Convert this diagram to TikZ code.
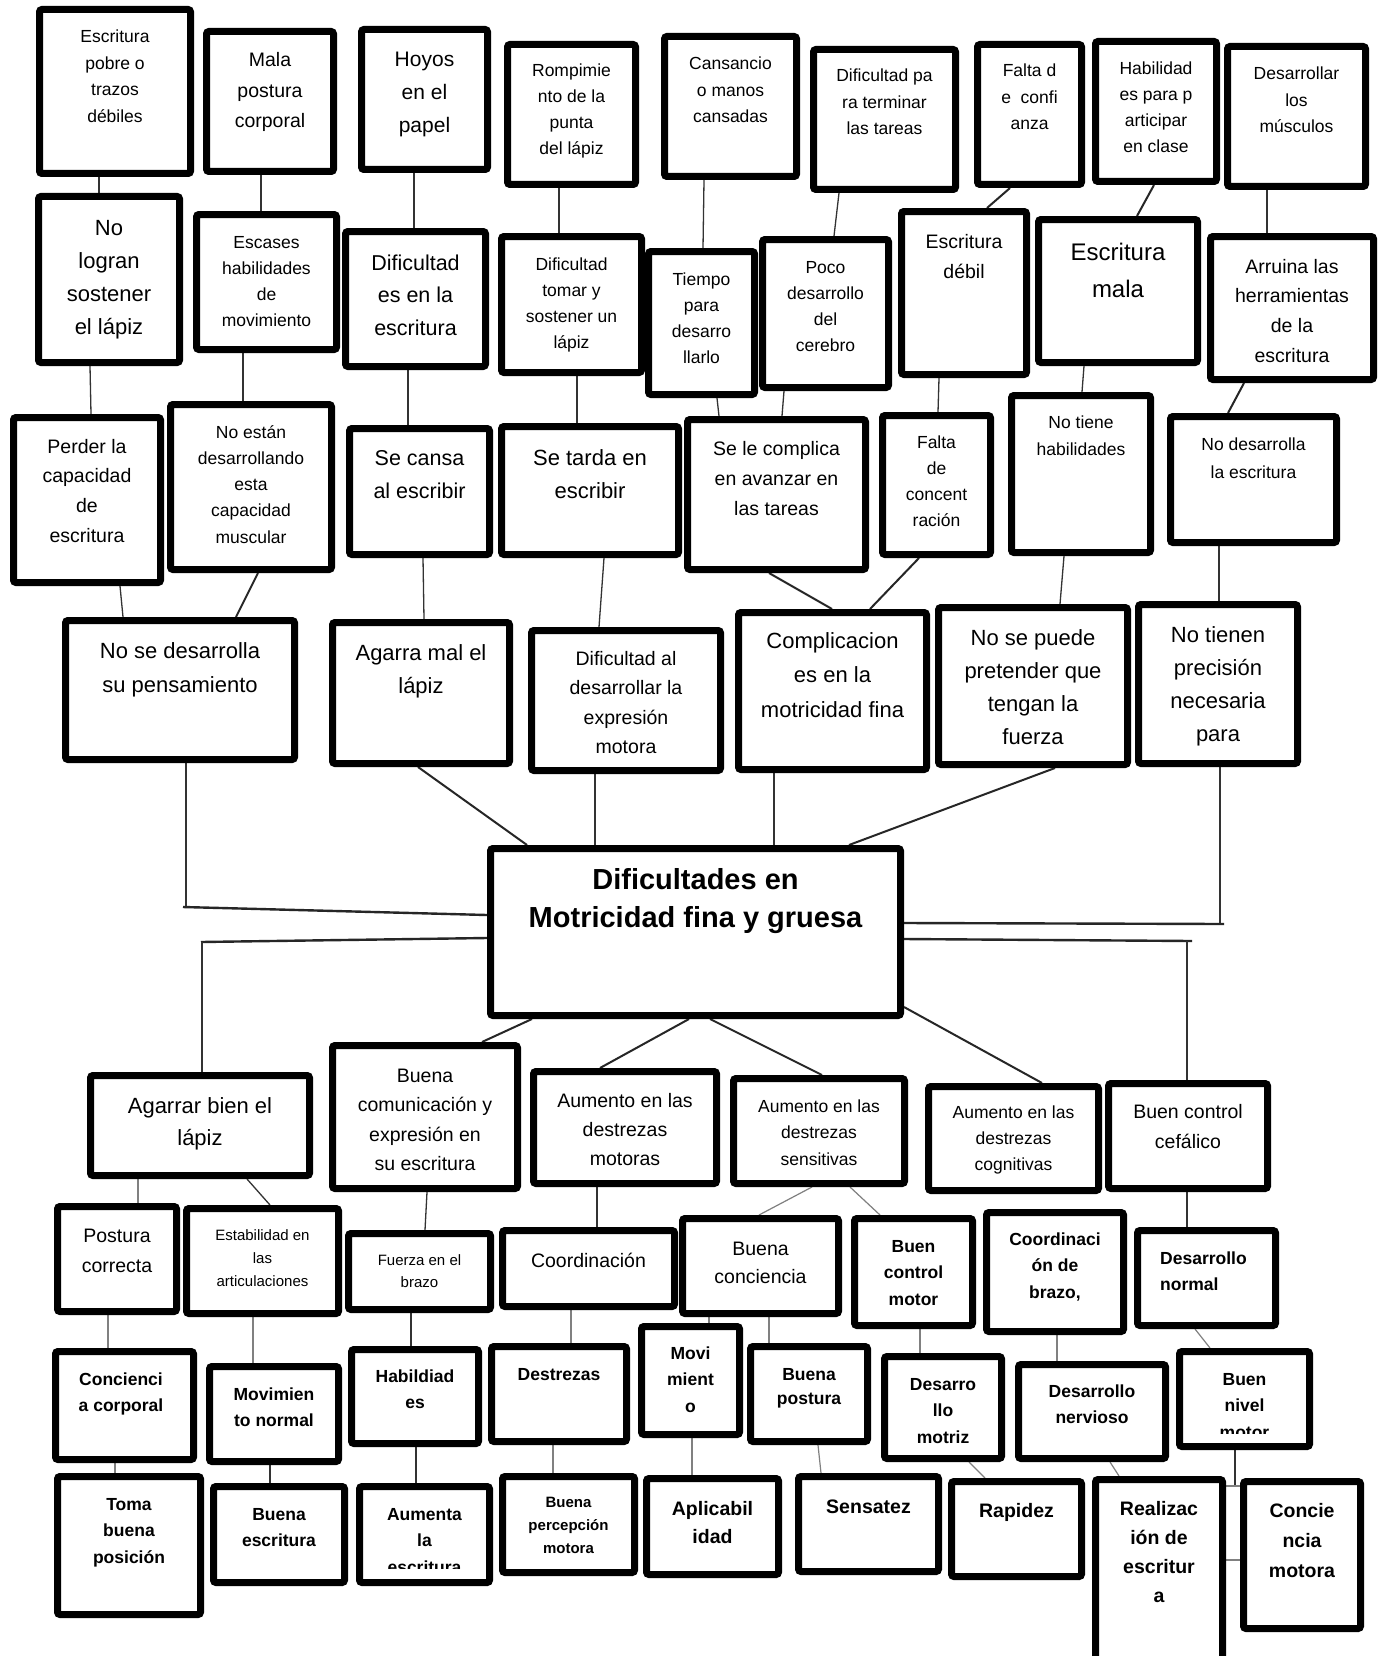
\documentclass[tikz,border=0pt]{standalone}
\usepackage{fontspec}
\setmainfont{Liberation Sans}
\usetikzlibrary{backgrounds}
\newcommand\myfs[2]{\fontsize{#1}{#2}\selectfont}
\newcommand\tl[2][c]{\begin{tabular}[t]{@{}#1@{}}#2\end{tabular}}
\tikzset{
  boxst/.style={draw=black, line width=7pt, rounded corners=2.5pt, fill=white, inner sep=0pt},
  txt/.style={anchor=base, inner sep=0pt, text=black},
  conn/.style={draw=black!80, line width=1.3pt},
  connw/.style={draw=black!85, line width=2pt},
  rail/.style={draw=black!85, line width=2.4pt},
  faint/.style={draw=black!50, line width=1.2pt},
  bA/.style={font={\myfs{17.5}{26.5}\bfseries}},
  bB/.style={font={\myfs{19.5}{28}\bfseries}}
}
% box: name, x1, y1, x2, y2, text style, first baseline, text
\newcommand\bx[8]{%
  \node[boxst, minimum width={#4-#2-7}, minimum height={#5-#3-7}] (#1) at ({(#2+#4)/2},{(#3+#5)/2}) {};
  \node[txt,#6] (#1t) at ({(#2+#4)/2},#7) {\tl{#8}};}
\newcommand\bxo[5]{%
  \node[boxst, minimum width={#4-#2-7}, minimum height={#5-#3-7}] (#1) at ({(#2+#4)/2},{(#3+#5)/2}) {};}
\newcommand\cn[5][conn]{\draw[#1] (#2.south -| #3,0) -- (#4.north -| #5,0);}
\begin{document}
\begin{tikzpicture}[x=1pt,y=-1pt]
\useasboundingbox (0,0) rectangle (1384,1656);
\begin{pgfonlayer}{background}
\fill[white] (0,0) rectangle (1384,1656);
\end{pgfonlayer}
% row 1
\bx{b1}{36}{6}{194}{177}{font=\myfs{17.5}{26.7}}{42.5}{Escritura\\pobre o\\trazos\\débiles}
\bx{b2}{203}{28}{337}{175}{font=\myfs{19.5}{30.5}}{67}{Mala\\postura\\corporal}
\bx{b3}{358}{26}{491}{173}{font=\myfs{21}{33}}{67}{Hoyos\\en el\\papel}
\bx{b4}{504}{41}{639}{188}{font=\myfs{17.5}{26}}{77}{Rompimie\\nto de la\\punta\\del lápiz}
\bx{b5}{661}{33}{800}{180}{font=\myfs{17.5}{26.5}}{70}{Cansancio\\o manos\\cansadas}
\bx{b6}{810}{46}{959}{193}{font=\myfs{17.5}{26.5}}{82}{Dificultad pa\\ra terminar\\las tareas}
\bx{b7}{974}{41}{1085}{188}{font=\myfs{17.5}{26.5}}{77}{Falta d\\e\ \ confi\\anza}
\bx{b8}{1092}{38}{1220}{185}{font=\myfs{17.5}{26}}{75}{Habilidad\\es para p\\articipar\\en clase}
\bx{b9}{1224}{43}{1369}{190}{font=\myfs{17.5}{26.5}}{80}{Desarrollar\\los\\músculos}
% row 2
\bx{b10}{35}{193}{183}{366}{font=\myfs{22}{33}}{235}{No\\logran\\sostener\\el lápiz}
\bx{b11}{193}{211}{340}{353}{font=\myfs{17.5}{26.3}}{248}{Escases\\habilidades\\de\\movimiento}
\bx{b12}{342}{228}{489}{370}{font=\myfs{21.5}{32.5}}{270}{Dificultad\\es en la\\escritura}
\bx{b13}{498}{233}{645}{376}{font=\myfs{17.5}{26}}{270}{Dificultad\\tomar y\\sostener un\\lápiz}
\bx{b14}{645}{248}{758}{398}{font=\myfs{17.5}{26}}{285}{Tiempo\\para\\desarro\\llarlo}
\bx{b15}{759}{236}{892}{391}{font=\myfs{17.5}{26.3}}{273}{Poco\\desarrollo\\del\\cerebro}
\bx{b16}{898}{208}{1030}{378}{font=\myfs{19.5}{30}}{248}{Escritura\\débil}
\bx{b17}{1035}{216}{1201}{366}{font=\myfs{24}{37}}{260}{Escritura\\mala}
\bx{b18}{1207}{233}{1377}{383}{font=\myfs{19.5}{29.7}}{273}{Arruina las\\herramientas\\de la\\escritura}
% row 3
\bx{b19}{10}{414}{164}{586}{font=\myfs{19.5}{29.7}}{453}{Perder la\\capacidad\\de\\escritura}
\bx{b20}{167}{401}{335}{573}{font=\myfs{17.5}{26.3}}{438}{No están\\desarrollando\\esta\\capacidad\\muscular}
\bx{b21}{346}{425}{493}{558}{font=\myfs{21.5}{33}}{465}{Se cansa\\al escribir}
\bx{b22}{498}{423}{682}{558}{font=\myfs{22}{33}}{465}{Se tarda en\\escribir}
\bx{b23}{684}{416}{869}{573}{font=\myfs{19.5}{30}}{455}{Se le complica\\en avanzar en\\las tareas}
\bx{b24}{879}{412}{994}{558}{font=\myfs{17.5}{26.3}}{448}{Falta\\de\\concent\\ración}
\bx{b25}{1008}{392}{1154}{556}{font=\myfs{17.5}{27}}{428}{No tiene\\habilidades}
\bx{b26}{1167}{413}{1340}{546}{font=\myfs{17.5}{28}}{450}{No desarrolla\\la escritura}
% row 4
\bx{b27}{62}{617}{298}{763}{font=\myfs{22}{34}}{658}{No se desarrolla\\su pensamiento}
\bx{b28}{329}{619}{513}{767}{font=\myfs{22}{33}}{660}{Agarra mal el\\lápiz}
\bx{b29}{528}{627}{724}{774}{font=\myfs{19.5}{29.5}}{665}{Dificultad al\\desarrollar la\\expresión\\motora}
\bx{b30}{735}{609}{930}{773}{font=\myfs{22}{34.5}}{648}{Complicacion\\es en la\\motricidad fina}
\bx{b31}{935}{604}{1131}{768}{font=\myfs{22}{33}}{645}{No se puede\\pretender que\\tengan la\\fuerza}
\bx{b32}{1135}{601}{1301}{767}{font=\myfs{22}{33}}{642}{No tienen\\precisión\\necesaria\\para}
% centre
\bx{b33}{487}{845}{904}{1019}{font={\myfs{29}{38}\bfseries}}{889}{Dificultades en\\Motricidad fina y gruesa}
% row 5
\bx{b34}{87}{1072}{313}{1179}{font=\myfs{22}{32}}{1113}{Agarrar bien el\\lápiz}
\bx{b35}{329}{1042}{521}{1192}{font=\myfs{19.5}{29.5}}{1082}{Buena\\comunicación y\\expresión en\\su escritura}
\bx{b36}{530}{1068}{720}{1187}{font=\myfs{19.5}{29}}{1107}{Aumento en las\\destrezas\\motoras}
\bx{b37}{730}{1075}{908}{1187}{font=\myfs{17.5}{26.5}}{1112}{Aumento en las\\destrezas\\sensitivas}
\bx{b38}{925}{1083}{1102}{1194}{font=\myfs{17.5}{26}}{1118}{Aumento en las\\destrezas\\cognitivas}
\bx{b39}{1105}{1080}{1271}{1192}{font=\myfs{19.5}{30}}{1118}{Buen control\\cefálico}
% row 6
\bx{b40}{54}{1203}{180}{1315}{font=\myfs{19.5}{30}}{1242}{Postura\\correcta}
\bx{b41}{183}{1205}{342}{1317}{font=\myfs{15}{23}}{1240}{Estabilidad en\\las\\articulaciones}
\bx{b42}{345}{1230}{494}{1313}{font=\myfs{15}{22}}{1265}{Fuerza en el\\brazo}
\bx{b43}{499}{1227}{678}{1310}{font=\myfs{19.5}{28}}{1267}{Coordinación}
\bx{b44}{679}{1215}{842}{1317}{font=\myfs{19.5}{28}}{1255}{Buena\\conciencia}
\bx{b45}{851}{1215}{976}{1329}{bA}{1252}{Buen\\control\\motor}
\bx{b46}{983}{1209}{1127}{1335}{bA}{1245}{Coordinaci\\ón de\\brazo,}
\bxo{b47}{1134}{1227}{1279}{1329}
\node[txt,bA,anchor=base west] (b47t) at (1160,1264) {\tl[l]{Desarrollo\\normal}};
% row 7
\bx{b48}{52}{1348}{197}{1463}{bA,xshift=-3.5pt}{1385}{Concienci\\a corporal}
\bx{b49}{206}{1363}{342}{1465}{bA}{1400}{Movimien\\to normal}
\bx{b50}{348}{1346}{482}{1447}{bA}{1382}{Habildiad\\es}
\bx{b51}{488}{1343}{630}{1445}{bA}{1380}{Destrezas}
\bx{b52}{638}{1323}{743}{1438}{bA}{1359}{Movi\\mient\\o}
\bx{b53}{747}{1343}{871}{1445}{font={\myfs{17.5}{24.5}\bfseries}}{1380}{Buena\\postura}
\bx{b54}{881}{1353}{1005}{1462}{bA}{1390}{Desarro\\llo\\motriz}
\bx{b55}{1015}{1361}{1169}{1462}{bA}{1397}{Desarrollo\\nervioso}
\bxo{b56}{1176}{1348}{1313}{1450}
\begin{scope}
\clip (1176,1348) rectangle (1313,1433);
\node[txt,bA] (b56t) at (1244.5,1385) {\tl{Buen\\nivel\\motor}};
\end{scope}
% row 8
\bx{b57}{54}{1473}{204}{1618}{bA}{1510}{Toma\\buena\\posición}
\bx{b58}{210}{1483}{348}{1586}{bA}{1520}{Buena\\escritura}
\bxo{b59}{356}{1483}{493}{1586}
\begin{scope}
\clip (356,1483) rectangle (493,1568);
\node[txt,bA] (b59t) at (424.5,1520) {\tl{Aumenta\\la\\escritura}};
\end{scope}
\bx{b60}{499}{1473}{638}{1576}{font={\myfs{15}{23}\bfseries}}{1507}{Buena\\percepción\\motora}
\bx{b61}{643}{1475}{782}{1578}{bB}{1515}{Aplicabil\\idad}
\bx{b62}{795}{1473}{942}{1575}{bB}{1513}{Sensatez}
\bx{b63}{948}{1478}{1085}{1580}{bB}{1517}{Rapidez}
\bx{b64}{1092}{1476}{1226}{1720}{font={\myfs{19.5}{29.3}\bfseries}}{1515}{Realizac\\ión de\\escritur\\a}
\bx{b65}{1240}{1478}{1364}{1632}{font={\myfs{19.5}{30}\bfseries}}{1517}{Concie\\ncia\\motora}
% connectors
\begin{pgfonlayer}{background}
\cn{b1}{99}{b10}{99}
\cn{b2}{261}{b11}{261}
\cn{b3}{414}{b12}{414}
\cn{b4}{559}{b13}{559}
\cn{b5}{704}{b14}{703}
\cn{b6}{839}{b15}{834}
\cn[connw]{b7}{1010}{b16}{987}
\cn[connw]{b8}{1154}{b17}{1137}
\cn{b9}{1267}{b18}{1267}
\cn{b10}{90}{b19}{91}
\cn{b11}{243}{b20}{243}
\cn{b12}{408}{b21}{408}
\cn{b13}{577}{b22}{577}
\cn{b14}{717}{b23}{719}
\cn{b15}{784}{b23}{782}
\cn{b16}{939}{b24}{938}
\cn{b17}{1084}{b25}{1082}
\cn[connw]{b18}{1244}{b26}{1228}
\cn{b19}{120}{b27}{123}
\cn[connw]{b20}{258}{b27}{236}
\cn{b21}{423}{b28}{424}
\cn{b22}{604}{b29}{599}
\cn[connw]{b23}{769}{b30}{832}
\cn[connw]{b24}{919}{b30}{870}
\cn{b25}{1064}{b31}{1060}
\cn{b26}{1219}{b32}{1219}
\cn[connw]{b28}{418}{b33}{527}
\cn{b29}{595}{b33}{595}
\cn{b30}{774}{b33}{774}
\cn[connw]{b31}{1055}{b33}{849}
\draw[conn] (b27.south -| 186,0) -- (186,907);
\draw[rail] (183,907) -- (b33.west |- 0,915);
\draw[rail] (b33.west |- 0,938) -- (201,942);
\draw[conn] (202,942) -- (b34.north -| 202,0);
\draw[conn] (b32.south -| 1220,0) -- (1220,924);
\draw[rail] (b33.east |- 0,923) -- (1224,924);
\draw[rail] (b33.east |- 0,939) -- (1192,941);
\draw[conn] (1187,941) -- (b39.north -| 1187,0);
\draw[connw] (b33.south -| 532,0) -- (b35.north -| 482,0);
\draw[connw] (b33.south -| 689,0) -- (b36.north -| 600,0);
\draw[connw] (b33.south -| 710,0) -- (b37.north -| 822,0);
\draw[connw] (b33.east |- 0,1007) -- (b38.north -| 1042,0);
\cn[faint]{b34}{138}{b40}{138}
\cn{b34}{247}{b41}{270}
\cn{b35}{427}{b42}{425}
\cn{b36}{597}{b43}{597}
\cn[faint]{b37}{812}{b44}{759}
\cn[faint]{b37}{850}{b45}{880}
\cn{b39}{1187}{b47}{1187}
\cn[faint]{b40}{108}{b48}{108}
\cn[faint]{b41}{253}{b49}{253}
\cn{b42}{411}{b50}{411}
\cn[faint]{b43}{571}{b51}{571}
\cn[faint]{b44}{709}{b52}{709}
\cn[faint]{b44}{769}{b53}{769}
\cn[faint]{b45}{920}{b54}{920}
\cn[faint]{b46}{1057}{b55}{1057}
\cn[faint]{b47}{1195}{b56}{1210}
\cn[faint]{b48}{115}{b57}{115}
\cn{b49}{270}{b58}{270}
\cn{b50}{416}{b59}{416}
\cn[faint]{b51}{553}{b60}{553}
\cn[faint]{b52}{692}{b61}{692}
\cn[faint]{b53}{818}{b62}{821}
\cn[faint]{b54}{969}{b63}{985}
\cn[faint]{b55}{1110}{b64}{1119}
\draw[conn] (b56.south -| 1235,0) -- (1235,1486) coordinate (j1);
\draw[faint] (b64.east |- j1) -- (b65.west |- j1);
\draw[faint] (b64.east |- 0,1560) -- (b65.west |- 0,1560);
\end{pgfonlayer}
\end{tikzpicture}
\end{document}
